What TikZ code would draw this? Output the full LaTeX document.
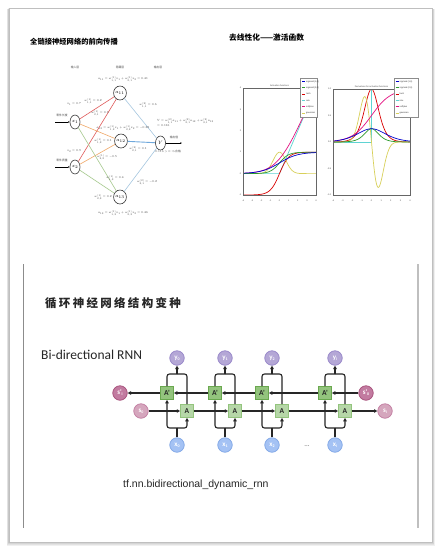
\documentclass[tikz,border=0pt]{standalone}
\usepackage{fontspec}
\usepackage{graphicx}
\usetikzlibrary{shapes.geometric,arrows.meta}
\newfontfamily\cjk{Noto Sans CJK SC}
\newfontfamily\cjkls{Noto Sans CJK SC}[LetterSpace=20]
\newfontfamily\carl{Carlito}
\newfontfamily\lib{Liberation Sans}
\newcommand\fs[1]{\fontsize{#1}{#1}\selectfont}
\newcommand\sbs[1]{\raisebox{-0.35ex}{\fs{4}#1}}
\newcommand\mth[1]{\scalebox{0.5}{\fs{5.6}$#1$}}
\newcommand\mnode[1]{\scalebox{0.8}{\fs{5.6}$#1$}}
\definecolor{nnred}{HTML}{E05A5A}
\definecolor{nnorange}{HTML}{F0A868}
\definecolor{nngreen}{HTML}{A6C98E}
\definecolor{nnblue}{HTML}{A7C7E0}
\definecolor{nnblued}{HTML}{6FA8DC}
\definecolor{ypurple}{HTML}{B4A7D6}
\definecolor{ypurpled}{HTML}{9584C8}
\definecolor{xblue}{HTML}{A4C2F4}
\definecolor{xblued}{HTML}{7FA6E6}
\definecolor{agreen}{HTML}{B6D7A8}
\definecolor{agreend}{HTML}{93C47D}
\definecolor{apgreen}{HTML}{93C47D}
\definecolor{apgreend}{HTML}{6AA84F}
\definecolor{spink}{HTML}{D5A6BD}
\definecolor{spinkd}{HTML}{C27BA0}
\definecolor{sppink}{HTML}{C27BA0}
\definecolor{sppinkd}{HTML}{A64D79}
\definecolor{pcyan}{HTML}{5FD3D3}
\definecolor{pyellow}{HTML}{D8D05A}
\definecolor{pgreen}{HTML}{2E9A2E}
\begin{document}
\begin{tikzpicture}[x=1pt,y=-1pt,
  nn/.style={ellipse,draw=black!80,line width=0.6,minimum width=10,minimum height=14,inner sep=0},
  wl/.style={inner sep=0,text=black!75},
  cjklab/.style={font=\cjk\fs{2.8},inner sep=0,text=black!70},
  tick/.style={font=\lib\fs{2.2},inner sep=0.3,text=black!70},
  pl/.style={line width=0.7},
  leg/.style={font=\lib\fs{2.2},inner sep=0,anchor=west,text=black!80},
  conn/.style={draw=black!85,line width=1.1,rounded corners=2.5},
  tipa/.style={-{Triangle[length=3.4pt,width=3.4pt]}},
  circ/.style={circle,minimum size=14.5,inner sep=0,line width=0.7,text=white,font=\carl\bfseries\fs{7}},
  ynode/.style={circ,fill=ypurple,draw=ypurpled},
  xnode/.style={circ,fill=xblue,draw=xblued},
  snode/.style={circ,fill=spink,draw=spinkd},
  spnode/.style={circ,fill=sppink,draw=sppinkd},
  box/.style={rectangle,minimum size=13,inner sep=0,line width=0.7,text=black!85,font=\carl\bfseries\fs{7.5}},
  abox/.style={box,fill=agreen,draw=agreend},
  apbox/.style={box,fill=apgreen,draw=apgreend}
]
\useasboundingbox (0,0) rectangle (442,552);
% frame with shadow
\foreach \d in {1,2,3,4}
  \fill[black,opacity=0.06] (9-0.6*\d,8+0.3*\d) rectangle (432+0.8*\d,542+\d);
\fill[white] (9,8) rectangle (432,542);
\draw[black!25,line width=0.6] (9,8) rectangle (432,542);
\draw[black!45,line width=0.8] (23,264) -- (23,528);
\draw[black!25,line width=1.3] (418,264) -- (418,528);

% titles
\node[font=\cjk\bfseries\fs{7.3},anchor=west,inner sep=0] (t1) at (30,42) {全链接神经网络的前向传播};
\node[font=\cjk\bfseries\fs{7.7},anchor=west,inner sep=0] (t2) at (229,38) {去线性化——激活函数};
\node[font=\cjkls\bfseries\fs{11.5},anchor=west,inner sep=0,text=black!85] (t3) at (45,303) {循环神经网络结构变种};

% ---------- fully connected network ----------
\node[cjklab] (h1) at (75,67) {输入层};
\node[cjklab] (h2) at (120,67) {隐藏层};
\node[cjklab] (h3) at (158,67) {输出层};
\node[nn] (x1) at (75,122) {\mnode{x_1}};
\node[nn] (x2) at (75,167) {\mnode{x_2}};
\node[nn] (a11) at (120,93) {\mnode{a_{11}}};
\node[nn] (a12) at (121,141) {\mnode{a_{12}}};
\node[nn] (a13) at (120,197) {\mnode{a_{13}}};
\node[nn] (Y) at (160.5,143) {\mnode{Y}};
\draw[nnred,line width=0.6] (x1) -- (a11);
\draw[nnred,line width=0.6] (x2) -- (a11);
\draw[nnorange,line width=0.6] (x1) -- (a12);
\draw[nnorange,line width=0.6] (x2) -- (a12);
\draw[nngreen,line width=0.6] (x1) -- (a13);
\draw[nngreen,line width=0.6] (x2) -- (a13);
\draw[nnblue,line width=0.6] (a11) -- (Y);
\draw[nnblued,line width=0.9] (a12) -- (Y);
\draw[nnblue,line width=0.6] (a13) -- (Y);
\coordinate (i1) at (55,122);
\coordinate (i2) at (55,167);
\coordinate (o1) at (182,143);
\draw[line width=0.8,-{Latex[length=1.6pt,width=1.6pt]}] (i1) -- (x1);
\draw[line width=0.8,-{Latex[length=1.6pt,width=1.6pt]}] (i2) -- (x2);
\draw[line width=0.8,-{Latex[length=1.6pt,width=1.6pt]}] (Y) -- (o1);
\node[cjklab] (l1) at (62,115.5) {零件长度};
\node[cjklab] (l2) at (62,160.5) {零件质量};
\node[wl] (v1) at (74,104) {\mth{x_1=0.7}};
\node[wl] (v2) at (74,151) {\mth{x_2=0.9}};
\node[wl] (f1) at (123,79) {\mth{a_{11}=w^{(1)}_{1,1}x_1+w^{(1)}_{2,1}x_2=0.41}};
\node[wl] (f2) at (123,128) {\mth{a_{12}=w^{(1)}_{1,2}x_1+w^{(1)}_{2,2}x_2=-0.38}};
\node[wl] (f3) at (123,213) {\mth{a_{13}=w^{(1)}_{1,3}x_1+w^{(1)}_{2,3}x_2=0.46}};
\node[wl] (w1) at (93,101) {\mth{w^{(1)}_{1,1}=0.2}};
\node[wl] (w2) at (100,113) {\mth{w^{(1)}_{2,1}=0.3}};
\node[wl] (w3) at (103,141) {\mth{w^{(1)}_{1,2}=0.1}};
\node[wl] (w4) at (107,157) {\mth{w^{(1)}_{2,2}=-0.5}};
\node[wl] (w5) at (115,178) {\mth{w^{(1)}_{1,3}=0.4}};
\node[wl] (w6) at (103,197) {\mth{w^{(1)}_{2,3}=0.2}};
\node[wl] (u1) at (148,105) {\mth{w^{(2)}_{1,1}=0.6}};
\node[wl] (u2) at (138,149) {\mth{w^{(2)}_{2,1}=0.1}};
\node[wl] (u3) at (147,182) {\mth{w^{(2)}_{3,1}=-0.2}};
\node[wl,anchor=west] (fy1) at (157,121) {\mth{Y=w^{(2)}_{1,1}a_{11}+w^{(2)}_{2,1}a_{12}+w^{(2)}_{3,1}a_{13}}};
\node[wl,anchor=west] (fy2) at (157,126) {\mth{=0.116}};
\node[cjklab] (ol) at (174,137.5) {输出值};
\node[cjklab] (ov) at (168,151) {\mth{0.116>0\Rightarrow}合格};

% ---------- activation functions (left) ----------
\begin{scope}[shift={(279.5,173.6)},x=9.125pt,y=21.4pt]
  \begin{scope}
    \clip (-4,-1) rectangle (4,4);
    \draw[pcyan,pl] (-4,0) -- (0,0) -- (4,4);
    \draw[red!85!black,pl] plot[domain=-4:4,samples=60] (\x,{tanh(\x)});
    \draw[pyellow,pl] plot[domain=-4:4,samples=80] (\x,{exp(-(\x)^2)});
    \draw[magenta!80!purple,pl] plot[domain=-4:4,samples=60] (\x,{ln(1+exp(\x))});
    \draw[pgreen,pl] plot[domain=-4:4,samples=60] (\x,{1/(1+exp(-2*(\x)))});
    \draw[blue!80!black,pl] plot[domain=-4:4,samples=60] (\x,{1/(1+exp(-(\x)))});
  \end{scope}
  \draw[black!60,line width=0.4] (-4,-1) rectangle (4,4);
  \foreach \t in {-4,...,4} \node[tick] at (\t,-1.25) {\t};
  \foreach \t in {-1,...,4} \node[tick,anchor=east] at (-4.15,\t) {\t};
  \node[tick] at (0,4.13) {Activation functions};
\end{scope}
% ---------- derivatives (right) ----------
\begin{scope}[shift={(371.5,142)},x=9.625pt,y=53pt]
  \begin{scope}
    \clip (-4,-1) rectangle (4,1);
    \draw[pcyan,pl] (-4,0) -- (0,0) -- (0,1) -- (4,1);
    \draw[red!85!black,pl] plot[domain=-4:4,samples=80] (\x,{1-tanh(\x)^2});
    \draw[pyellow,pl] plot[domain=-4:4,samples=100] (\x,{-2*(\x)*exp(-(\x)^2)});
    \draw[magenta!80!purple,pl] plot[domain=-4:4,samples=60] (\x,{1/(1+exp(-(\x)))});
    \draw[pgreen,pl] plot[domain=-4:4,samples=80] (\x,{1/((1+exp(-2*(\x)))*(1+exp(2*(\x))))});
    \draw[blue!80!black,pl] plot[domain=-4:4,samples=60] (\x,{1/((1+exp(-(\x)))*(1+exp(\x)))});
  \end{scope}
  \draw[black!60,line width=0.4] (-4,-1) rectangle (4,1);
  \foreach \t in {-4,...,4} \node[tick] at (\t,-1.1) {\t};
  \foreach \t in {-1.0,-0.5,0.0,0.5,1.0} \node[tick,anchor=east] at (-4.15,\t) {\t};
  \node[tick] at (0,1.05) {Derivatives for activation functions};
\end{scope}
% legends
\foreach \lx/\rx in {300.5/317.5,394/418.3} {
  \fill[white] (\lx,78) rectangle (\rx,117);
  \draw[black!45,line width=0.4] (\lx,78) rectangle (\rx,117);
  \foreach \i/\c/\t in {0/blue!80!black/{sigmoid (1,0)},1/pgreen/{sigmoid (2,0)},2/red!85!black/tanh,3/pcyan/relu,4/magenta!80!purple/softplus,5/pyellow/gaussian} {
    \draw[\c,line width=0.7] (\lx+1.5,81.5+6.3*\i) -- (\lx+4.5,81.5+6.3*\i);
    \node[leg] at (\lx+5.5,81.5+6.3*\i) {\t};
  }
}

% ---------- bidirectional RNN ----------
\node[font=\carl\fs{13.5},anchor=west,inner sep=0,text=black!85] (bt) at (41,355) {Bi-directional RNN};
\node[font=\lib\fs{10.5},anchor=west,inner sep=0,text=black!85] (tf) at (123,485) {tf.nn.bidirectional\_dynamic\_rnn};

\foreach \i/\c/\lab in {0/167/0,1/215/1,2/262/2,3/325/i} {
  \node[apbox] (Ap\i) at (\c,393) {A'};
  \node[abox] (A\i) at (\c+20,411) {A};
  \node[ynode] (y\i) at (\c+10,358) {y\sbs{\lab}};
  \node[xnode] (x\i) at (\c+10,445) {x\sbs{\lab}};
  \coordinate (xb\i) at (\c+10,428);
  \coordinate (yb\i) at (\c+10,374);
}
\node[font=\carl\fs{7},text=black!60] (dots) at (307,446) {...};
\node[spnode] (spi) at (120,393) {s'\sbs{i}};
\node[snode] (s0) at (141,411) {s\sbs{0}};
\node[spnode] (sp0) at (366,393) {s'\sbs{0}};
\node[snode] (si) at (385,411) {s\sbs{i}};

\foreach \i in {0,1,2,3} {
  \draw[conn] (x\i.north) -- (xb\i);
  \draw[conn,tipa] (xb\i) -| (Ap\i.south);
  \draw[conn,tipa] (xb\i) -| (A\i.south);
  \draw[conn] (Ap\i.north) |- (yb\i);
  \draw[conn] (A\i.north) |- (yb\i);
  \draw[conn,tipa] (yb\i) -- (y\i.south);
}
\draw[conn,tipa] (sp0.west) -- (Ap3.east);
\draw[conn,tipa] (Ap3.west) -- (Ap2.east);
\draw[conn,tipa] (Ap2.west) -- (Ap1.east);
\draw[conn,tipa] (Ap1.west) -- (Ap0.east);
\draw[conn,tipa] (Ap0.west) -- (spi.east);
\draw[conn,tipa] (s0.east) -- (A0.west);
\draw[conn,tipa] (A0.east) -- (A1.west);
\draw[conn,tipa] (A1.east) -- (A2.west);
\draw[conn,tipa] (A2.east) -- (A3.west);
\draw[conn,tipa] (A3.east) -- (si.west);
\end{tikzpicture}
\end{document}
